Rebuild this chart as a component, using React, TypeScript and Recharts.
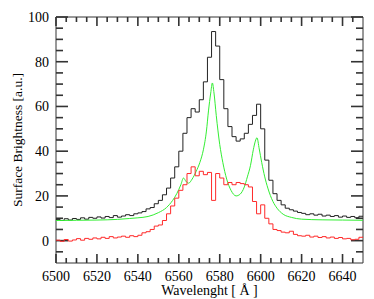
import { LineChart, Line, XAxis, YAxis, ReferenceArea, ReferenceLine } from "recharts";

// spectrum bins (Å), 2 Å wide starting at 6500
const binStart = 6500;
const binWidth = 2;

const observed = [
  9.5, 9.0, 9.8, 9.2, 9.9, 9.5, 10.2, 9.6, 10.4, 10.0,
  10.6, 10.1, 10.8, 10.3, 11.2, 10.5, 11.0, 11.6, 11.2, 12.0,
  12.4, 13.0, 14.2, 14.8, 16.5, 18.0, 20.5, 23.5, 28, 33,
  40, 48, 55, 59, 57.5, 63, 71, 82, 93.5, 87,
  72, 59, 51, 46.5, 44.5, 45.5, 48, 52, 56, 61,
  50, 36, 27, 21, 18, 16, 14.5, 13.8, 13.2, 12.6,
  12.2, 11.6, 12.0, 11.4, 11.8, 11.0, 11.4, 10.8, 11.2, 10.5,
  11.0, 10.4, 10.8, 10.2, 10.9, 11.0,
];

const residual = [
  0.2, -0.3, 0.5, -0.2, 0.3, 0.9, 0.2, 1.0, 0.6, 1.2,
  0.8, 1.5, 1.0, 1.8, 1.2, 1.6, 2.0, 1.5, 2.2, 1.8,
  2.4, 3.5, 4.0, 5.0, 6.5, 7.0, 9.0, 12, 15.5, 19,
  22.5, 25, 30, 33, 29, 31, 29.5, 30.5, 18, 30,
  28, 25, 26, 25, 26, 25.5, 25, 24, 17.5, 12,
  16, 10, 7.5, 5, 4.5, 3.8, 3.5, 4.2, 2.8, 2.2,
  2.0, 2.4, 1.6, 2.0, 1.4, 1.8, 1.2, 1.6, 1.0, 1.4,
  0.8, 1.0, 0.4, 0.6, 1.5, 1.8,
];

// fitted line profile
const fitWl = [
  6500, 6510, 6520, 6530, 6536, 6540, 6545, 6550, 6554, 6557,
  6559, 6561, 6562.3, 6563.5, 6564.8, 6566.5, 6568.5, 6570.3, 6572, 6573.5,
  6574.5, 6575.6, 6576.4, 6577.2, 6578.3, 6580, 6581.5, 6583.4, 6585.5, 6588,
  6590, 6592, 6593.5, 6595, 6596.4, 6597.4, 6598.2, 6599.3, 6600.5, 6602,
  6603.5, 6606, 6608, 6611, 6615, 6620, 6630, 6640, 6650,
];
const fitVal = [
  9.0, 9.1, 9.2, 9.5, 9.9, 10.2, 10.8, 12.5, 14.8, 18,
  21, 25, 28, 26.5, 25.7, 27.5, 31, 35, 40.6, 49,
  58, 66, 70.5, 66, 56, 43, 35, 27.5, 22.5, 20,
  20.8, 24, 28.5, 33.5, 40.6, 44.5, 46, 41, 35, 28.5,
  23.5, 17.5, 14.5, 11.8, 10.4, 9.6, 9.3, 9.2, 9.1,
];

const xLabelTicks = [6500, 6520, 6540, 6560, 6580, 6600, 6620, 6640];
const xMinorTicks = [
  6505, 6510, 6515, 6525, 6530, 6535, 6545, 6550, 6555, 6565, 6570, 6575,
  6585, 6590, 6595, 6605, 6610, 6615, 6625, 6630, 6635, 6645,
];
const yLabelTicks = [0, 20, 40, 60, 80, 100];
const yMinorTicks = [-5, 5, 10, 15, 25, 30, 35, 45, 50, 55, 65, 70, 75, 85, 90, 95];

const xDomain = [6500, 6650];
const yDomain = [-10, 100];

const spectrum = observed.map((v, i) => ({
  wl: binStart + i * binWidth,
  observed: v,
  residual: residual[i],
}));
const fit = fitWl.map((w, i) => ({ wl: w, fit: fitVal[i] }));

const font = "'Liberation Serif', 'DejaVu Serif', serif";
const frame = "#333";
const tw = 1.6; // tick thickness

// inward tick marks on all four sides, drawn at the ends of reference lines
const vTick = (len: number) => (p: any) => {
  const top = Math.min(p.y1, p.y2);
  const bottom = Math.max(p.y1, p.y2);
  return (
    <g>
      <rect x={p.x1 - tw / 2} y={bottom - len} width={tw} height={len} fill={frame} />
      <rect x={p.x1 - tw / 2} y={top} width={tw} height={len} fill={frame} />
    </g>
  );
};
const hTick = (len: number) => (p: any) => {
  const left = Math.min(p.x1, p.x2);
  const right = Math.max(p.x1, p.x2);
  return (
    <g>
      <rect x={left} y={p.y1 - tw / 2} width={len} height={tw} fill={frame} />
      <rect x={right - len} y={p.y1 - tw / 2} width={len} height={tw} fill={frame} />
    </g>
  );
};

const tickText = { fill: "#000", fontSize: 14, fontFamily: font };

export default function App() {
  return (
    <LineChart
      width={366}
      height={291}
      margin={{ top: 9, right: 11, left: 0, bottom: 0 }}
      style={{ fontFamily: font }}
    >
      <XAxis
        xAxisId="x"
        dataKey="wl"
        type="number"
        domain={xDomain}
        ticks={xLabelTicks}
        interval={0}
        allowDataOverflow
        height={36}
        tickLine={false}
        axisLine={false}
        tickSize={0}
        tickMargin={8}
        tick={tickText}
        label={{
          value: "Wavelenght [ Å ]",
          position: "insideBottom",
          offset: 4,
          fill: "#000",
          fontSize: 14,
          fontFamily: font,
        }}
      />
      <YAxis
        yAxisId="y"
        type="number"
        domain={yDomain}
        ticks={yLabelTicks}
        interval={0}
        allowDataOverflow
        width={48}
        tickLine={false}
        axisLine={false}
        tickSize={0}
        tickMargin={7}
        tick={tickText}
        label={{
          value: "Surface Brightness [a.u.]",
          angle: -90,
          position: "insideLeft",
          offset: 9,
          fill: "#000",
          fontSize: 13.5,
          fontFamily: font,
          style: { textAnchor: "middle" },
        }}
      />

      {xLabelTicks.map((t) => (
        <ReferenceLine key={"xM" + t} xAxisId="x" yAxisId="y" x={t} shape={vTick(9)} />
      ))}
      {xMinorTicks.map((t) => (
        <ReferenceLine key={"xm" + t} xAxisId="x" yAxisId="y" x={t} shape={vTick(5)} />
      ))}
      {yLabelTicks.map((t) => (
        <ReferenceLine key={"yM" + t} xAxisId="x" yAxisId="y" y={t} shape={hTick(12)} />
      ))}
      {yMinorTicks.map((t) => (
        <ReferenceLine key={"ym" + t} xAxisId="x" yAxisId="y" y={t} shape={hTick(7)} />
      ))}

      <ReferenceArea
        xAxisId="x"
        yAxisId="y"
        x1={xDomain[0]}
        x2={xDomain[1]}
        y1={yDomain[0]}
        y2={yDomain[1]}
        fill="none"
        stroke={frame}
        strokeWidth={1}
        ifOverflow="visible"
      />

      <Line
        xAxisId="x"
        yAxisId="y"
        data={spectrum}
        dataKey="observed"
        type="stepAfter"
        stroke="#222"
        strokeWidth={1}
        dot={false}
        isAnimationActive={false}
      />
      <Line
        xAxisId="x"
        yAxisId="y"
        data={fit}
        dataKey="fit"
        type="monotone"
        stroke="#33ee33"
        strokeWidth={1}
        dot={false}
        isAnimationActive={false}
      />
      <Line
        xAxisId="x"
        yAxisId="y"
        data={spectrum}
        dataKey="residual"
        type="stepAfter"
        stroke="#ff2a2a"
        strokeWidth={1}
        dot={false}
        isAnimationActive={false}
      />
    </LineChart>
  );
}
